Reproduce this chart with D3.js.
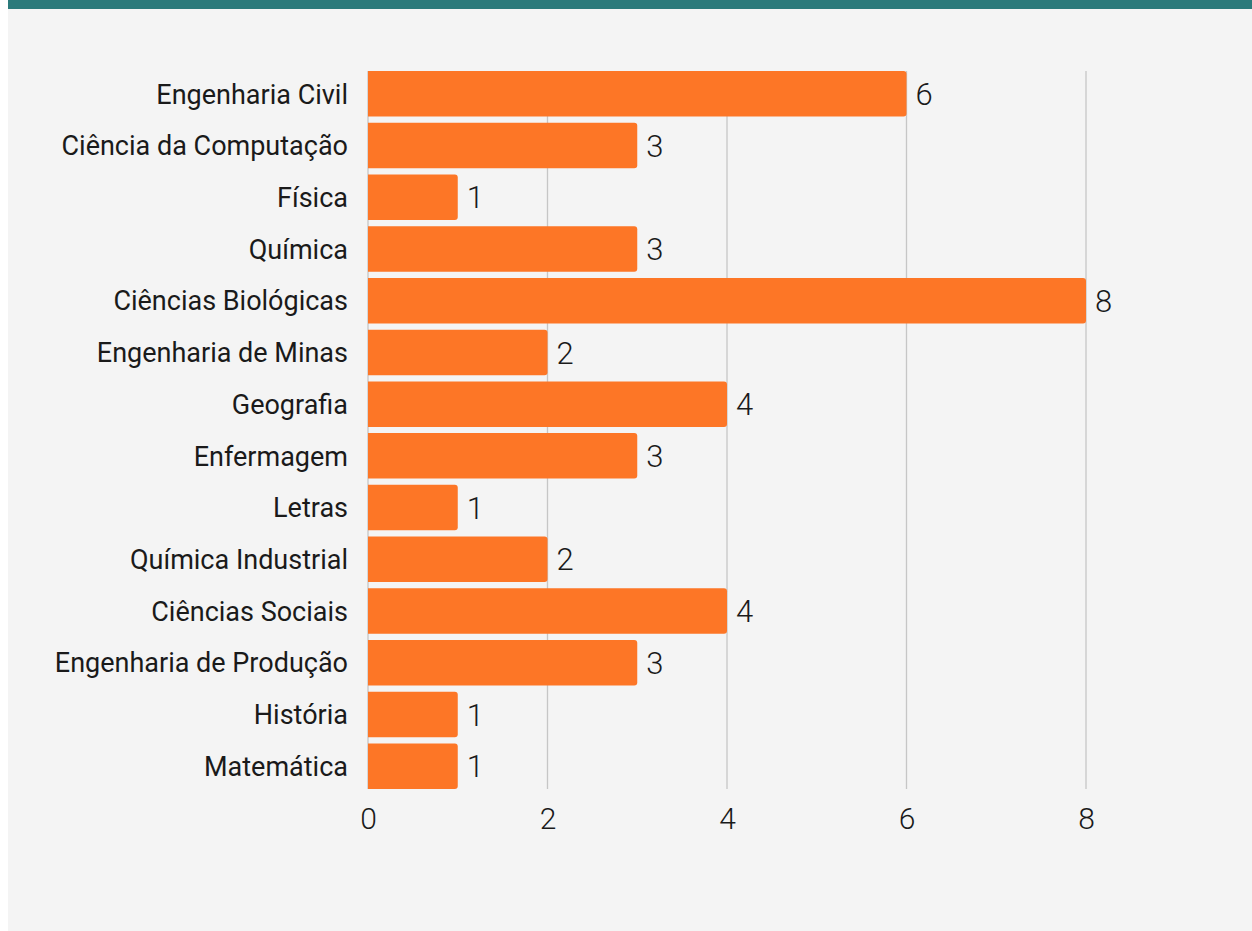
<!DOCTYPE html>
<html>
<head>
<meta charset="utf-8">
<script src="https://cdn.jsdelivr.net/npm/d3@7"></script>
<style>
  body { margin: 0; background: #fff; }
  svg { display: block; }
</style>
</head>
<body>
<svg id="chart" width="1252" height="931"></svg>
<script>
// chart data
var cursos = ["Engenharia Civil", "Ciência da Computação", "Física", "Química",
  "Ciências Biológicas", "Engenharia de Minas", "Geografia", "Enfermagem",
  "Letras", "Química Industrial", "Ciências Sociais", "Engenharia de Produção",
  "História", "Matemática"];
var quantidade = [6, 3, 1, 3, 8, 2, 4, 3, 1, 2, 4, 3, 1, 1];
var xTicks = [0, 2, 4, 6, 8];

var svg = d3.select('#chart');
var width = 1252, height = 931;

// page background + top band
svg.append("rect").attr("x", 8).attr("y", 0)
  .attr("width", width - 8).attr("height", height).attr("fill", "#f4f4f4");
svg.append("rect").attr("x", 8).attr("y", 0)
  .attr("width", width - 8).attr("height", 9).attr("fill", "#2b7a7b");

var margin = {top: 68, left: 368, bottom: 139, right: 166};

var x = d3.scaleLinear().domain([0, 8]).range([margin.left, width - margin.right]);
var y = d3.scaleBand().domain(cursos)
  .range([margin.top, height - margin.bottom])
  .paddingInner(0.12).paddingOuter(0.06);

var gridTop = y(cursos[0]);
var gridBottom = y(cursos[cursos.length - 1]) + y.bandwidth();

// vertical grid lines
svg.append("g").selectAll("line")
  .data(xTicks)
  .enter().append("line")
  .attr("x1", d => x(d)).attr("x2", d => x(d))
  .attr("y1", gridTop).attr("y2", gridBottom)
  .attr("stroke", "#c6c6c6").attr("stroke-width", 1.3);

// bars, rounded on the right end only
var r = 3;
svg.append("g").selectAll("path")
  .data(cursos)
  .enter().append("path")
  .attr("fill", "#fd7626")
  .attr("d", function(d, i) {
    var x0 = x(0), x1 = x(quantidade[i]), y0 = y(d), h = y.bandwidth();
    return "M" + x0 + "," + y0 +
      "H" + (x1 - r) +
      "Q" + x1 + "," + y0 + " " + x1 + "," + (y0 + r) +
      "V" + (y0 + h - r) +
      "Q" + x1 + "," + (y0 + h) + " " + (x1 - r) + "," + (y0 + h) +
      "H" + x0 + "Z";
  });

// value labels
svg.append("g").selectAll("text")
  .data(cursos)
  .enter().append("text")
  .attr("x", (d, i) => x(quantidade[i]) + 9)
  .attr("y", d => y(d) + y.bandwidth() / 2)
  .attr("dy", "0.36em")
  .style("font-family", "Roboto, sans-serif")
  .style("font-weight", 300)
  .style("font-size", "31px")
  .style("fill", "#1a1a1a")
  .text((d, i) => quantidade[i]);

// category labels
var yAxis = d3.axisLeft(y).tickSize(0).tickPadding(20);
var gy = svg.append("g")
  .attr("transform", "translate(" + margin.left + ",0)")
  .call(yAxis);
gy.select(".domain").remove();
gy.selectAll("text")
  .attr("dy", "0.36em")
  .style("font-family", "Roboto, sans-serif")
  .style("font-size", "27px")
  .style("fill", "#1a1a1a");

// x axis tick labels
var xAxis = d3.axisBottom(x).tickValues(xTicks).tickSize(0).tickPadding(0);
var gx = svg.append("g")
  .attr("transform", "translate(0," + gridBottom + ")")
  .call(xAxis);
gx.select(".domain").remove();
gx.selectAll("text")
  .attr("y", 29)
  .attr("dy", "0.36em")
  .style("font-family", "Roboto, sans-serif")
  .style("font-weight", 300)
  .style("font-size", "30px")
  .style("fill", "#1a1a1a");
</script>
</body>
</html>
